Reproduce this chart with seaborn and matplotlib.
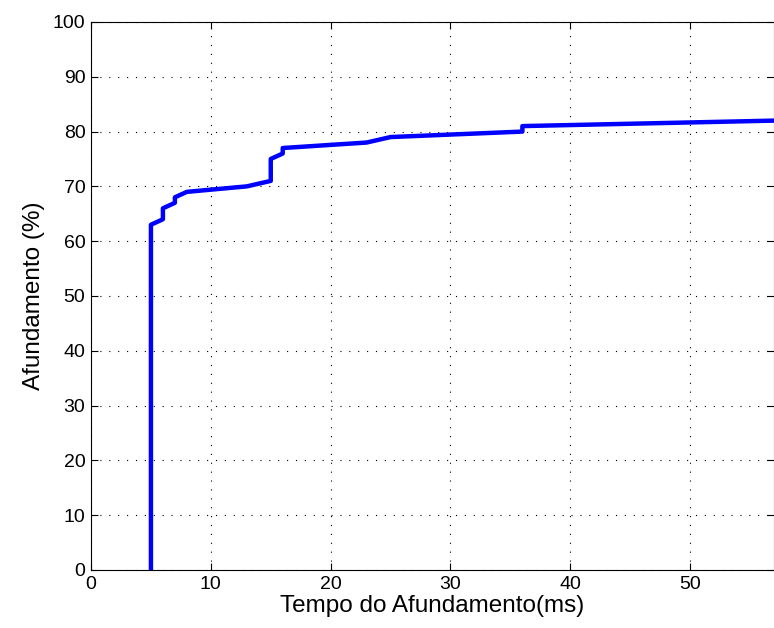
import matplotlib
matplotlib.use("Agg")
import matplotlib.pyplot as plt
import seaborn as sns
import pandas as pd

tempo = [5, 5, 6, 6, 7, 7, 8, 13, 15, 15, 16, 16, 23, 25, 36, 36, 57]
afund = [0, 63, 64, 66, 67, 68, 69, 70, 71, 75, 76, 77, 78, 79, 80, 81, 82]
xticks = [0, 10, 20, 30, 40, 50]
yticks = [0, 10, 20, 30, 40, 50, 60, 70, 80, 90, 100]

sns.set_theme(style="white")
plt.rcParams['font.family'] = ['Liberation Sans', 'DejaVu Sans']
plt.rcParams['xtick.direction'] = 'in'
plt.rcParams['ytick.direction'] = 'in'

fig = plt.figure(figsize=(7.74, 6.28), dpi=100)
ax = fig.add_axes([0.1176, 0.0924, 0.8824, 0.8726])
df = pd.DataFrame({"t": tempo, "a": afund})
sns.lineplot(data=df, x="t", y="a", sort=False, estimator=None, color="#0000ff", linewidth=3.2, ax=ax)
ax.set_xlim(0, 57)
ax.set_ylim(0, 100)
ax.set_xticks(xticks)
ax.set_yticks(yticks)
ax.grid(True, linestyle=(0, (1, 7)), color="black", linewidth=0.8)
for s in ax.spines.values():
    s.set_color("black")
    s.set_linewidth(0.8)
ax.tick_params(axis="both", labelsize=14, length=5, width=0.8, color="black", labelcolor="black",
               bottom=True, left=True, top=True, right=True, pad=4)
ax.set_xlabel("Tempo do Afundamento(ms)", fontsize=17.5, color="black", labelpad=2)
ax.set_ylabel("Afundamento (%)", fontsize=17.5, color="black", labelpad=6)
fig.savefig("out.png", dpi=100)
